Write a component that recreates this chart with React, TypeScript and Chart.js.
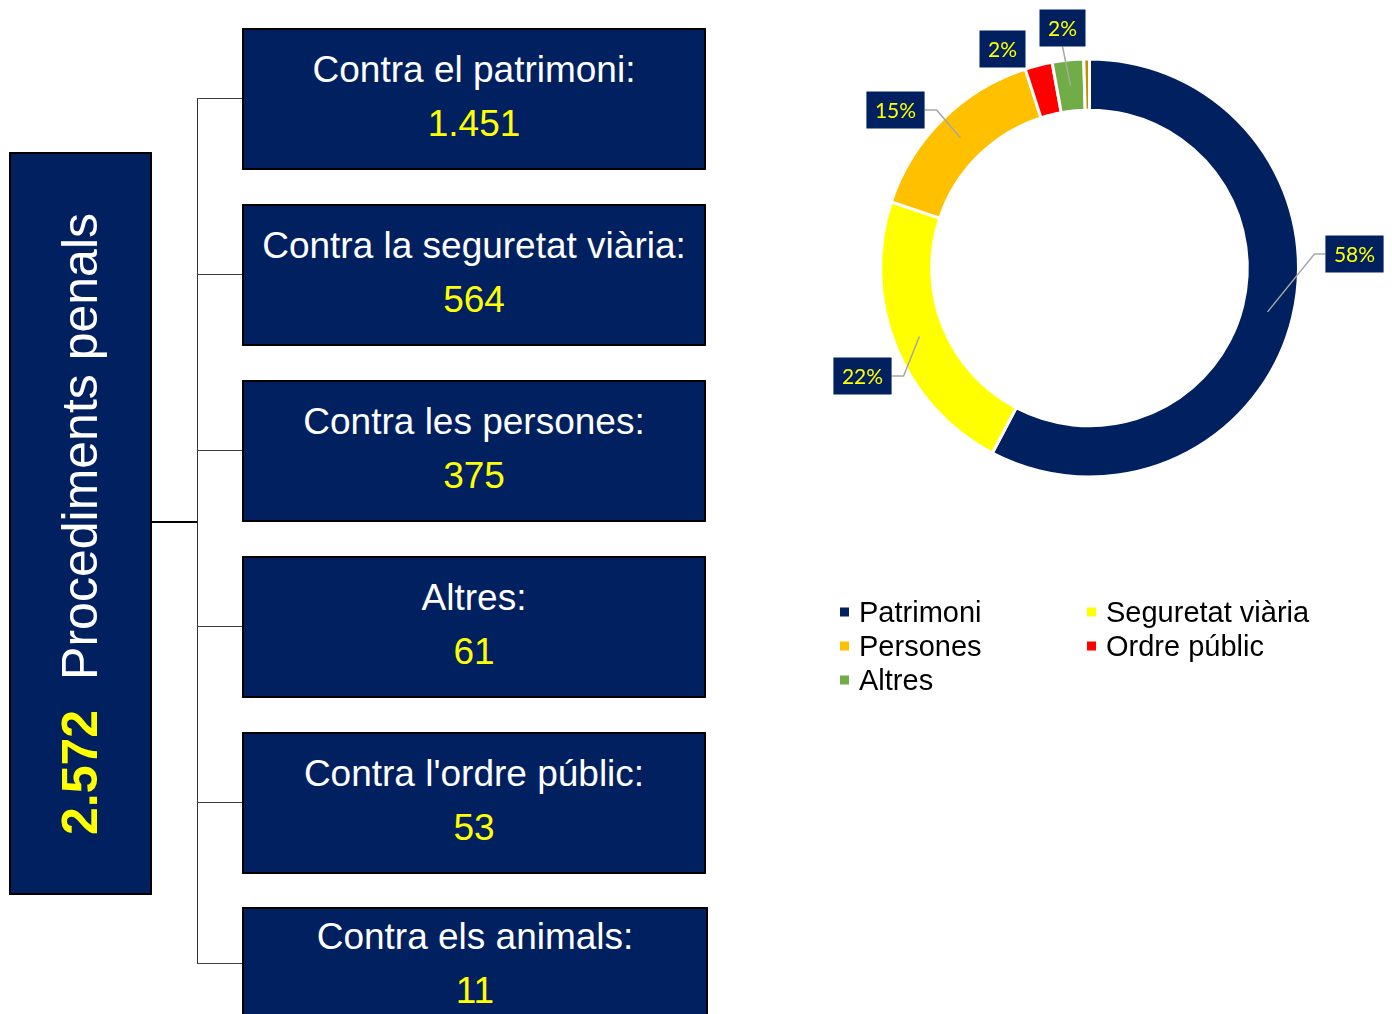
import React, { useEffect, useRef } from 'react';
import { Chart, registerables } from 'chart.js';

Chart.register(...registerables);

// ---------- data ----------
const categories = ['Patrimoni', 'Seguretat viària', 'Persones', 'Ordre públic', 'Altres', 'Animals'];
const values = [1451, 564, 375, 53, 61, 11];
const sliceColors = ['#002060', '#FFFF00', '#FFC000', '#FF0000', '#70AD47', '#BF9000'];
const legendShown = [true, true, true, true, true, false];

const boxTitles = ['Contra el patrimoni:', 'Contra la seguretat viària:', 'Contra les persones:', 'Altres:', "Contra l'ordre públic:", 'Contra els animals:'];
const boxValues = ['1.451', '564', '375', '61', '53', '11'];
const totalValue = '2.572';
const totalTitle = 'Procediments penals';

// ---------- layout ----------
const labelOffsets: (number[] | null)[] = [[265, -14], [-227, 108], [-194, -158], [-87, -219], [-27, -240], null];
const labelLeader = [true, true, true, false, true, false];
const boxTops = [28, 204, 380, 556, 732, 907];
const boxWidths = [464, 464, 464, 464, 464, 466];
const boxTextTop = [41, 41, 41, 41, 41, 29];
const boxBranch = [70, 70, 70, 70, 70, 56];

const NAVY = '#002060';
const YELLOW = '#FFFF00';

const labelPlugin = {
  id: 'sliceLabels',
  afterDatasetsDraw(chart: any) {
    const ctx = chart.ctx;
    const meta = chart.getDatasetMeta(0);
    const data = chart.data.datasets[0].data as number[];
    const total = data.reduce((a, b) => a + b, 0);
    ctx.save();
    ctx.font = '21px Lato, "Open Sans", sans-serif';
    meta.data.forEach((arc: any, i: number) => {
      const off = labelOffsets[i];
      if (!off) return;
      const p = arc.getProps(['x', 'y', 'startAngle', 'endAngle', 'innerRadius', 'outerRadius'], true);
      const mid = (p.startAngle + p.endAngle) / 2;
      const r = (p.innerRadius + p.outerRadius) / 2;
      const ax = p.x + Math.cos(mid) * r;
      const ay = p.y + Math.sin(mid) * r;
      const text = Math.round((data[i] / total) * 100) + '%';
      const tw = ctx.measureText(text).width;
      const bw = tw + 17;
      const bh = 37;
      const cx = p.x + off[0];
      const cy = p.y + off[1];
      const left = cx - bw / 2, right = cx + bw / 2, top = cy - bh / 2, bottom = cy + bh / 2;
      if (labelLeader[i]) {
        ctx.strokeStyle = '#A6A6A6';
        ctx.lineWidth = 1.5;
        ctx.beginPath();
        ctx.moveTo(ax, ay);
        if (ax < left) {
          ctx.lineTo(left - 11, cy);
          ctx.lineTo(left, cy);
        } else if (ax > right) {
          ctx.lineTo(right + 12, cy);
          ctx.lineTo(right, cy);
        } else {
          ctx.lineTo(cx, ay > cy ? bottom : top);
        }
        ctx.stroke();
      }
      ctx.fillStyle = NAVY;
      ctx.fillRect(left, top, bw, bh);
      ctx.fillStyle = YELLOW;
      ctx.textAlign = 'center';
      ctx.textBaseline = 'middle';
      ctx.fillText(text, cx, cy + 1);
    });
    ctx.restore();
  },
};

const LEG_X = 22;
const LEG_Y = 612;
const LEG_COL = 247;
const LEG_ROW = 34;

const legendPlugin = {
  id: 'gridLegend',
  afterDraw(chart: any) {
    const ctx = chart.ctx;
    const ds = chart.data.datasets[0];
    ctx.save();
    ctx.font = '29px "Liberation Sans", Arial, sans-serif';
    ctx.textBaseline = 'middle';
    ctx.textAlign = 'left';
    let k = 0;
    (chart.data.labels as string[]).forEach((lab, i) => {
      if (!legendShown[i]) return;
      const col = k % 2;
      const row = Math.floor(k / 2);
      k++;
      const x = LEG_X + col * LEG_COL;
      const y = LEG_Y + row * LEG_ROW;
      ctx.fillStyle = ds.backgroundColor[i];
      ctx.fillRect(x, y - 4.5, 9, 9);
      ctx.fillStyle = '#000000';
      ctx.fillText(lab, x + 19, y + 1.5);
    });
    ctx.restore();
  },
};

function Doughnut() {
  const ref = useRef<HTMLCanvasElement | null>(null);
  useEffect(() => {
    if (!ref.current) return;
    const chart = new Chart(ref.current, {
      type: 'doughnut',
      data: {
        labels: categories,
        datasets: [
          {
            data: values,
            backgroundColor: sliceColors,
            borderColor: '#FFFFFF',
            borderWidth: 3,
          },
        ],
      },
      options: {
        responsive: false,
        animation: false,
        events: [],
        radius: 209,
        cutout: '75.5%',
        layout: { padding: { left: 0, right: 31, top: 0, bottom: 204 } },
        plugins: {
          legend: { display: false },
          tooltip: { enabled: false },
        },
      } as any,
      plugins: [labelPlugin, legendPlugin],
    });
    return () => chart.destroy();
  }, []);
  return (
    <canvas
      ref={ref}
      width={574}
      height={740}
      style={{ position: 'absolute', left: 818, top: 0, width: 574, height: 740 }}
    />
  );
}

export default function App() {
  const font = '"Liberation Sans", Arial, Helvetica, sans-serif';
  return (
    <div
      style={{
        position: 'absolute',
        left: 0,
        top: 0,
        width: 1392,
        height: 1014,
        overflow: 'hidden',
        background: '#FFFFFF',
        fontFamily: font,
      }}
    >
      {/* big left box */}
      <div
        style={{
          position: 'absolute',
          left: 9,
          top: 152,
          width: 143,
          height: 743,
          boxSizing: 'border-box',
          border: '2px solid #000',
          background: NAVY,
        }}
      />
      <div
        style={{
          position: 'absolute',
          left: 80,
          top: 524,
          transform: 'translate(-50%, -50%) rotate(-90deg)',
          whiteSpace: 'nowrap',
          fontSize: 50,
          lineHeight: 'normal',
          color: '#FFFFFF',
        }}
      >
        <span style={{ color: YELLOW, fontWeight: 'bold' }}>{totalValue}</span>
        <span style={{ marginLeft: 30 }}>{totalTitle}</span>
      </div>

      {/* connectors */}
      <div style={{ position: 'absolute', left: 151, top: 521, width: 47, height: 2, background: '#000' }} />
      <div
        style={{
          position: 'absolute',
          left: 196.5,
          top: boxTops[0] + boxBranch[0],
          width: 1.5,
          height: boxTops[5] + boxBranch[5] - (boxTops[0] + boxBranch[0]) + 1,
          background: '#333',
        }}
      />
      {boxTops.map((t, i) => (
        <div
          key={'br' + i}
          style={{ position: 'absolute', left: 197, top: t + boxBranch[i], width: 46, height: 1.3, background: '#404040' }}
        />
      ))}

      {/* category boxes */}
      {boxTops.map((t, i) => (
        <div
          key={'bx' + i}
          style={{
            position: 'absolute',
            left: 242,
            top: t,
            width: boxWidths[i],
            height: i === 5 ? 160 : 142,
            boxSizing: 'border-box',
            border: '2px solid #000',
            background: NAVY,
            textAlign: 'center',
            fontSize: 37,
          }}
        >
          <div style={{ position: 'absolute', left: 0, right: 0, top: boxTextTop[i] - 2 - 26.5, height: 53, lineHeight: '53px', color: '#FFFFFF', whiteSpace: 'nowrap' }}>
            {boxTitles[i]}
          </div>
          <div style={{ position: 'absolute', left: 0, right: 0, top: boxTextTop[i] - 2 + 54 - 26.5, height: 53, lineHeight: '53px', color: YELLOW, whiteSpace: 'nowrap' }}>
            {boxValues[i]}
          </div>
        </div>
      ))}

      <Doughnut />
    </div>
  );
}
